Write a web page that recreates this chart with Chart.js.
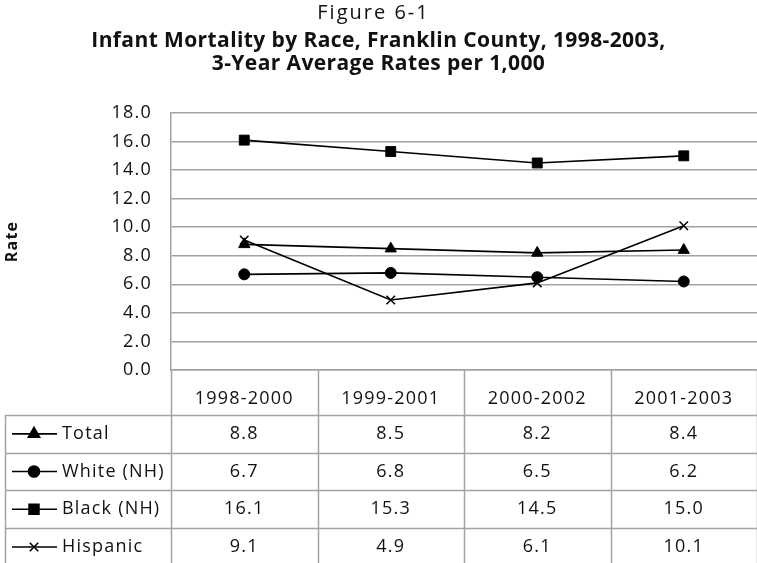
<!DOCTYPE html>
<html>
<head>
<meta charset="utf-8">
<script src="https://cdn.jsdelivr.net/npm/chart.js@4"></script>
<style>
  html, body { margin: 0; padding: 0; background: #fff; overflow: hidden; }
  #wrap { width: 757px; height: 563px; }
</style>
</head>
<body>
<div id="wrap"><canvas id="myChart"></canvas></div>
<script>
var periods = ['1998-2000', '1999-2001', '2000-2002', '2001-2003'];
var seriesNames = ['Total', 'White (NH)', 'Black (NH)', 'Hispanic'];
var totalRates = [8.8, 8.5, 8.2, 8.4];
var whiteRates = [6.7, 6.8, 6.5, 6.2];
var blackRates = [16.1, 15.3, 14.5, 15.0];
var hispanicRates = [9.1, 4.9, 6.1, 10.1];

var figureLabel = 'Figure 6-1';
var titleLines = ['Infant Mortality by Race, Franklin County, 1998-2003,', '3-Year Average Rates per 1,000'];

var gridGray = '#a3a3a3';
var textFont = 'Open Sans';

// titles drawn by hand so the letter spacing can be widened
var titlePlugin = {
    id: 'figureTitle',
    beforeDraw: function(chart) {
        chart.ctx.letterSpacing = '1.2px';
    },
    afterDraw: function(chart) {
        var ctx = chart.ctx;
        var cx = chart.width / 2;
        ctx.save();
        ctx.fillStyle = '#111';
        ctx.textAlign = 'center';
        ctx.textBaseline = 'middle';
        ctx.letterSpacing = '2px';
        ctx.font = '20px "' + textFont + '"';
        ctx.fillText(figureLabel, cx - 5, 13);
        ctx.letterSpacing = '0.4px';
        ctx.font = 'bold 21px "' + textFont + '"';
        ctx.fillText(titleLines[0], cx, 41);
        ctx.fillText(titleLines[1], cx, 64);
        ctx.restore();
    }
};

// data table drawn under the plot, one row per dataset
var tablePlugin = {
    id: 'dataTable',
    afterDraw: function(chart) {
        var ctx = chart.ctx;
        var area = chart.chartArea;
        var x = chart.scales.x;
        var headerH = 45;
        var rowH = 37.7;
        var legendLeft = 5;
        var colW = (area.right - area.left) / periods.length;
        var tableTop = area.bottom + headerH;
        var bottom = chart.height;

        ctx.save();
        ctx.strokeStyle = gridGray;
        ctx.lineWidth = 1.5;

        // column lines
        for (var c = 0; c <= periods.length; c++) {
            var cx = Math.round(area.left + c * colW) + 0.5;
            ctx.beginPath();
            ctx.moveTo(cx, area.bottom);
            ctx.lineTo(cx, bottom);
            ctx.stroke();
        }
        // legend column left edge
        ctx.beginPath();
        ctx.moveTo(legendLeft + 0.5, tableTop);
        ctx.lineTo(legendLeft + 0.5, bottom);
        ctx.stroke();

        chart.data.datasets.forEach(function(ds, i) {
            var top = tableTop + i * rowH;
            var mid = top + rowH / 2;
            ctx.strokeStyle = gridGray;
            ctx.lineWidth = 1.5;
            ctx.beginPath();
            ctx.moveTo(legendLeft, Math.round(top) + 0.5);
            ctx.lineTo(area.right, Math.round(top) + 0.5);
            ctx.stroke();

            // legend sample
            ctx.strokeStyle = '#000';
            ctx.lineWidth = 1.6;
            ctx.beginPath();
            ctx.moveTo(12, mid);
            ctx.lineTo(57, mid);
            ctx.stroke();
            ctx.fillStyle = '#000';
            Chart.helpers.drawPoint(ctx, {
                pointStyle: ds.pointStyle,
                radius: ds.pointRadius,
                rotation: 0,
                borderWidth: ds.pointBorderWidth
            }, 34, mid);

            ctx.fillStyle = '#111';
            ctx.font = '18px "' + textFont + '"';
            ctx.letterSpacing = '1.2px';
            ctx.textBaseline = 'middle';
            ctx.textAlign = 'left';
            ctx.fillText(ds.label, 62, mid);

            ctx.textAlign = 'center';
            ds.data.forEach(function(v, j) {
                ctx.fillText(v.toFixed(1), x.getPixelForValue(j), mid);
            });
        });
        ctx.restore();
    }
};

function lineSet(name, values, style, radius, bw) {
    return {
        label: name,
        data: values,
        borderColor: '#000',
        backgroundColor: '#000',
        borderWidth: 1.6,
        pointStyle: style,
        pointRadius: radius,
        pointBackgroundColor: '#000',
        pointBorderColor: '#000',
        pointBorderWidth: bw,
        tension: 0
    };
}

var ctx = document.getElementById('myChart').getContext('2d');
var myChart = new Chart(ctx, {
    type: 'line',
    data: {
        labels: periods,
        datasets: [
            lineSet(seriesNames[0], totalRates, 'triangle', 6.5, 1),
            lineSet(seriesNames[1], whiteRates, 'circle', 5.5, 1),
            lineSet(seriesNames[2], blackRates, 'rect', 7, 1),
            lineSet(seriesNames[3], hispanicRates, 'crossRot', 6, 1.5)
        ]
    },
    options: {
        responsive: true,
        maintainAspectRatio: false,
        animation: false,
        layout: {
            autoPadding: false,
            padding: { left: 0, right: 0, top: 113, bottom: 0 }
        },
        plugins: {
            legend: { display: false },
            tooltip: { enabled: false },
            colors: { enabled: false }
        },
        scales: {
            x: {
                offset: true,
                grid: { display: false, drawTicks: true, tickLength: 18 },
                border: { display: true, color: gridGray, width: 1.5 },
                ticks: {
                    color: '#111',
                    padding: 0,
                    font: { family: textFont, size: 18 }
                },
                afterFit: function(scale) {
                    scale.height = 193;
                    scale.paddingLeft = 0;
                    scale.paddingRight = 0;
                }
            },
            y: {
                min: 0,
                max: 18,
                grid: { color: gridGray, lineWidth: 1.5, drawTicks: false },
                border: { display: true, color: gridGray, width: 1.5 },
                ticks: {
                    stepSize: 2,
                    color: '#111',
                    padding: 19,
                    font: { family: textFont, size: 18 },
                    callback: function(v) { return v.toFixed(1); }
                },
                title: {
                    display: true,
                    text: 'Rate',
                    color: '#111',
                    font: { family: textFont, size: 16, weight: 'bold' },
                    padding: { top: 3, bottom: 0 }
                },
                afterFit: function(scale) { scale.width = 171; }
            }
        }
    },
    plugins: [titlePlugin, tablePlugin]
});
</script>
</body>
</html>
